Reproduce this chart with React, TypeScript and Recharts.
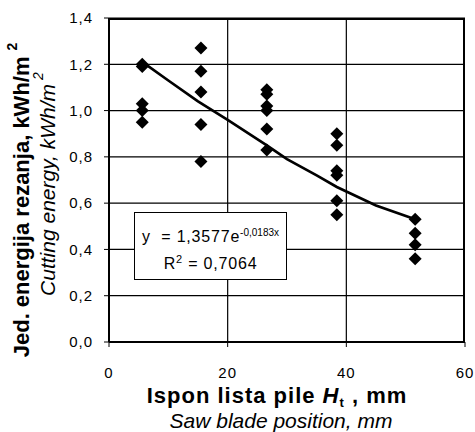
import { ComposedChart, Scatter, Line, XAxis, YAxis, CartesianGrid } from "recharts";

// measured points, mm -> kWh/m2
const posX = [
  5.6, 5.6, 5.6, 5.6, 5.6,
  15.5, 15.5, 15.5, 15.5, 15.5,
  26.6, 26.6, 26.6, 26.6, 26.6, 26.6,
  38.4, 38.4, 38.4, 38.4, 38.4, 38.4,
  51.6, 51.6, 51.6, 51.6,
];
const energyY = [
  1.2, 1.19, 1.03, 1.0, 0.95,
  1.27, 1.17, 1.08, 0.94, 0.78,
  1.09, 1.07, 1.02, 1.0, 0.92, 0.83,
  0.9, 0.85, 0.74, 0.72, 0.61, 0.55,
  0.53, 0.47, 0.42, 0.36,
];

// trend line as drawn on the sheet
const trendX = [5.6, 10, 15, 20, 26.6, 30, 35, 38.4, 45, 51.6];
const trendY = [1.21, 1.13, 1.04, 0.96, 0.85, 0.79, 0.72, 0.67, 0.59, 0.53];

const xTicks = [0, 20, 40, 60];
const yTicks = [0, 0.2, 0.4, 0.6, 0.8, 1.0, 1.2, 1.4];

const points = posX.map((x, i) => ({ x, y: energyY[i] }));
const trend = trendX.map((x, i) => ({ x, y: trendY[i] }));

const FONT = "'Liberation Sans', Arial, sans-serif";

const Diamond = (props: any) => {
  const { cx, cy } = props;
  const r = 6.5;
  return <path d={`M${cx},${cy - r}L${cx + r},${cy}L${cx},${cy + r}L${cx - r},${cy}Z`} fill="#000" />;
};

const fmt = (v: number) => v.toFixed(1).replace(".", ",");

export default function App() {
  return (
    <div style={{ position: "relative", width: 475, height: 432, overflow: "hidden", background: "#fff" }}>
      <style>{`body { margin: 0; overflow: hidden; }`}</style>
      <div style={{ position: "absolute", left: 8, top: 8, width: 467, height: 424, fontFamily: FONT }}>
        <ComposedChart width={467} height={424} margin={{ top: 10, right: 10, left: 41, bottom: 60 }}>
          <CartesianGrid stroke="#000" strokeWidth={1.2} verticalValues={[20, 40]} horizontalValues={yTicks} />
          <XAxis
            type="number"
            dataKey="x"
            domain={[0, 60]}
            ticks={xTicks}
            height={30}
            tickSize={5}
            tickMargin={20}
            axisLine={{ stroke: "#000", strokeWidth: 2 }}
            tickLine={{ stroke: "#000" }}
            tick={{ fill: "#000", fontSize: 15, fontFamily: FONT, letterSpacing: 1 }}
          />
          <YAxis
            type="number"
            dataKey="y"
            domain={[0, 1.4]}
            ticks={yTicks}
            width={60}
            tickSize={5}
            tickMargin={11}
            tickFormatter={fmt}
            axisLine={{ stroke: "#000", strokeWidth: 2 }}
            tickLine={{ stroke: "#000" }}
            tick={{ fill: "#000", fontSize: 15, fontFamily: FONT, letterSpacing: 1 }}
          />
          <Scatter data={points} shape={<Diamond />} isAnimationActive={false} />
          <Line data={trend} dataKey="y" type="linear" stroke="#000" strokeWidth={2.7} dot={false} isAnimationActive={false} />
        </ComposedChart>

        {/* right / top frame */}
        <div style={{ position: "absolute", left: 101, top: 10, width: 356, height: 324, border: "2px solid #000", borderLeft: "none", borderBottom: "none", boxSizing: "border-box" }} />

        {/* equation box */}
        <div
          style={{
            position: "absolute", left: 126, top: 204, width: 153, height: 68,
            background: "#fff", border: "1px solid #000", boxSizing: "border-box",
            fontSize: 16, letterSpacing: 0.8, textAlign: "center", lineHeight: "23px", paddingTop: 8,
          }}
        >
          <div style={{ whiteSpace: "nowrap" }}>
            y&nbsp; = 1,3577e<sup style={{ fontSize: 10, letterSpacing: 0 }}>-0,0183x</sup>
          </div>
          <div>R<sup style={{ fontSize: 11 }}>2</sup> = 0,7064</div>
        </div>

        <svg width={467} height={424} style={{ position: "absolute", left: 0, top: 0, pointerEvents: "none", overflow: "visible" }}>
          <text transform="translate(13,192) rotate(-90)" textAnchor="middle" fontSize={22} fontWeight="bold" fontFamily={FONT} dominantBaseline="central">
            Jed. energija rezanja, kWh/m<tspan dx={6} dy={-9} fontSize={14}>2</tspan>
          </text>
          <text transform="translate(39,176) rotate(-90)" textAnchor="middle" fontSize={21} fontStyle="italic" fontFamily={FONT} dominantBaseline="central">
            Cutting energy, kWh/m<tspan dx={4} dy={-9} fontSize={14}>2</tspan>
          </text>
          <text x={269} y={395} textAnchor="middle" fontSize={22} fontWeight="bold" fontFamily={FONT} letterSpacing={1}>
            Ispon lista pile <tspan fontStyle="italic">H</tspan><tspan fontSize={13} dy={4}>t</tspan><tspan dy={-4}> , mm</tspan>
          </text>
          <text x={273} y={420} textAnchor="middle" fontSize={21} fontStyle="italic" fontFamily={FONT}>
            Saw blade position, mm
          </text>
        </svg>
      </div>
    </div>
  );
}
